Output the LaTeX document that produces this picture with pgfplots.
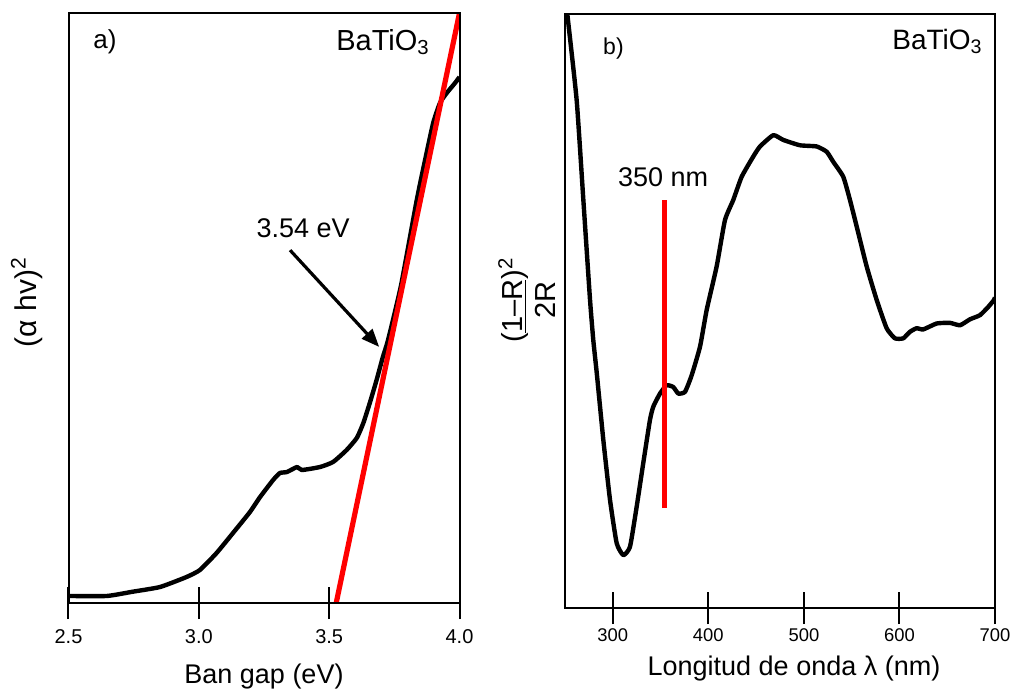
\documentclass[border=0pt]{standalone}
\usepackage{pgfplots}
\pgfplotsset{compat=1.18}
\usepackage{fontspec}
\setmainfont{Liberation Sans}
\usetikzlibrary{arrows.meta}

\begin{document}
\begin{tikzpicture}
\path (0pt,0pt) rectangle (506pt,344pt);
% ---------------- panel a ----------------
\begin{axis}[scale only axis, name=pa, clip mode=individual,
  at={(34.25pt,42.5pt)}, anchor=south west,
  width=195.5pt, height=295pt,
  xmin=2.5, xmax=4.0, ymin=0, ymax=100,
  xtick={2.5,3.0,3.5,4.0}, xticklabels={2.5,3.0,3.5,4.0},
  ytick=\empty,
  xtick pos=bottom,
  tick align=center,
  major tick length=8pt,
  tick style={line width=1pt, black},
  xticklabel style={font=\fontsize{10}{12}\selectfont, inner sep=0pt, anchor=north, yshift=-9pt},
  xlabel={Ban gap (eV)},
  xlabel style={font=\fontsize{13.5}{16}\selectfont, at={(axis description cs:0.5,-0.1356)}, anchor=base, inner sep=0pt},
  ylabel={(α hv)\textsuperscript{2}},
  ylabel style={font=\fontsize{15}{18}\selectfont, at={(axis description cs:-0.083,0.51)}, anchor=base, inner sep=0pt},
]
\addplot[black, line width=2.2pt, line join=round, smooth, tension=0.3] coordinates {
(2.500,1.19) (2.647,1.19) (2.747,1.92) (2.851,2.71) (2.953,4.41) (3.004,5.59)
(3.068,8.47) (3.131,11.86) (3.196,15.42) (3.235,17.97) (3.285,20.85) (3.311,22.03)
(3.338,22.2) (3.377,23.05) (3.395,22.54) (3.465,23.05) (3.515,23.9) (3.567,25.93)
(3.606,27.97) (3.631,30.5) (3.657,34.07) (3.682,37.8) (3.706,41.7) (3.726,44.58)
(3.776,53.9) (3.836,68.3) (3.868,75.1) (3.899,81.36) (3.925,84.75) (3.951,86.44)
(3.983,88.14) (4.000,89.15)
};
\addplot[red, line width=2.6pt] coordinates {(3.527,0) (4.0,100)};
\pgfplotsinvokeforeach{2.5,3.0,3.5,4.0}{
  \draw[line width=1pt, black] ([yshift=-8pt]axis cs:#1,0) -- ([yshift=8pt]axis cs:#1,0);
}
\draw[-{Triangle[length=9pt,width=7pt]}, line width=1.6pt] (axis cs:3.350,59.8) -- (axis cs:3.692,43.4);
\node[font=\fontsize{13.5}{16}\selectfont] at (axis cs:3.40,63.6) {3.54 eV};
\node[font=\fontsize{13}{16}\selectfont, anchor=west, inner sep=0pt] at (axis cs:2.594,95.1) {a)};
\node[font=\fontsize{14.5}{17}\selectfont, anchor=north east, inner sep=0pt] at (rel axis cs:0.925,0.973) {BaTiO\textsubscript{3}};
\end{axis}
\draw[line width=1pt] (pa.south west) rectangle (pa.north east);
% ---------------- panel b ----------------
\begin{axis}[scale only axis, name=pb, clip mode=individual,
  at={(282.5pt,40pt)}, anchor=south west,
  width=215pt, height=297pt,
  xmin=250, xmax=700, ymin=0, ymax=100,
  xtick={300,400,500,600,700}, xticklabels={300,400,500,600,700},
  ytick=\empty,
  xtick pos=bottom,
  tick align=center,
  major tick length=8pt,
  tick style={line width=1pt, black},
  xticklabel style={font=\fontsize{9.2}{11}\selectfont, inner sep=0pt, anchor=north, yshift=-6pt},
  xlabel={Longitud de onda λ (nm)},
  xlabel style={font=\fontsize{13.5}{16}\selectfont, at={(axis description cs:0.5326,-0.1128)}, anchor=base, inner sep=0pt},
  ylabel={\begin{tabular}{@{}c@{}}(\underline{1–R})\textsuperscript{2}\\2R\end{tabular}},
  ylabel style={font=\fontsize{14.5}{16.5}\selectfont, at={(axis description cs:-0.077,0.5185)}, anchor=center, inner sep=0pt},
]
\addplot[black, line width=2.2pt, line join=round, smooth, tension=0.3] coordinates {
(251.0,102.0) (252.4,100.0) (262.2,85.5) (269.2,68.7) (276.2,51.85) (279.6,45.1) (283.2,39.6)
(290.1,28.3) (297.1,18.2) (304.1,10.9) (311.0,8.9) (318.0,10.3) (325.0,17.05)
(331.9,24.4) (338.9,31.65) (342.4,33.9) (349.4,36.1) (356.4,37.5) (363.3,37.2)
(368.6,36.1) (375.6,36.4) (382.6,39.2) (391.3,44.0) (398.3,50.2) (408.7,57.5)
(417.4,65.3) (426.1,68.7) (434.9,72.6) (447.0,76.0) (454.1,77.7) (468.0,79.6)
(478.4,78.8) (495.9,77.9) (513.4,77.7) (523.9,76.8) (530.8,75.1) (541.2,72.6)
(548.2,68.7) (555.3,64.2) (565.7,57.5) (576.2,51.85) (586.6,47.1) (595.3,45.4)
(604.0,45.4) (611.0,46.5) (618.0,47.1) (624.9,46.9) (639.0,47.9) (652.9,48.0)
(663.4,47.6) (673.8,48.6) (684.3,49.3) (693.0,50.7) (698.9,51.85) (700,52.3)
};
\addplot[red, line width=2.5pt] coordinates {(354.1,16.8) (354.1,68.7)};
\pgfplotsinvokeforeach{300,400,500,600,700}{
  \draw[line width=1pt, black] ([yshift=-8pt]axis cs:#1,0) -- ([yshift=8pt]axis cs:#1,0);
}
\node[font=\fontsize{13.5}{16}\selectfont] at (axis cs:352.6,72.6) {350 nm};
\node[font=\fontsize{11.5}{14}\selectfont, anchor=north west, inner sep=0pt] at (rel axis cs:0.088,0.96) {b)};
\node[font=\fontsize{14}{17}\selectfont, anchor=north east, inner sep=0pt] at (rel axis cs:0.972,0.975) {BaTiO\textsubscript{3}};
\end{axis}
\draw[line width=1pt] (pb.south west) rectangle (pb.north east);
\end{tikzpicture}
\end{document}
